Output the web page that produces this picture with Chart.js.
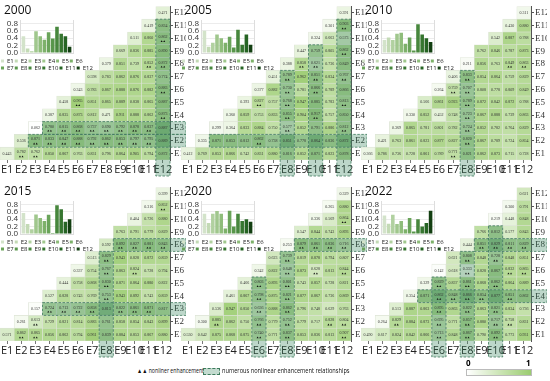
<!DOCTYPE html>
<html>
<head>
<meta charset="utf-8">
<script src="https://cdn.jsdelivr.net/npm/chart.js@4.4.1/dist/chart.umd.min.js"></script>
<style>
  body { margin: 0; width: 550px; height: 381px; background: #fff; position: relative; overflow: hidden; font-family: 'Open Sans', sans-serif; }
  .panel { position: absolute; width: 186px; height: 181px; }
  .panel canvas { position: absolute; left: 0; top: 0; }
  .title { position: absolute; left: 4px; top: 1px; font-size: 12px; color: #111; }
  .note { position: absolute; font-size: 6.5px; color: #111; white-space: nowrap; transform-origin: left center; }
</style>
</head>
<body>
<div id="wrap"></div>
<div class="note" style="left:137px;top:366px;transform:scaleX(0.8)">▲▲ nonliner enhancement</div>
<div style="position:absolute;left:203px;top:368px;width:15px;height:5px;border:1px dashed #3d7a5c;background:rgba(55,135,95,0.3)"></div>
<div class="note" style="left:222px;top:366px;transform:scaleX(0.87)">numerous nonlinear enhancement relationships</div>
<div style="position:absolute;left:466px;top:357px;font-size:8px;font-weight:bold">0</div>
<div style="position:absolute;left:526px;top:357px;font-size:8px;font-weight:bold">1</div>
<div id="cbar" style="position:absolute;left:466px;top:369px;width:64px;height:5px;border:0.5px solid #bbb"></div>
<script>
const labels = ['E1', 'E2', 'E3', 'E4', 'E5', 'E6', 'E7', 'E8', 'E9', 'E10', 'E11', 'E12'];
const years = ['2000', '2005', '2010', '2015', '2020', '2022'];

// kleine Balkendiagramme oben links
const bars2000 = [0.45, 0.12, 0.05, 0.59, 0.45, 0.36, 0.56, 0.39, 0.71, 0.52, 0.45, 0.17];
const bars2005 = [0.60, 0.17, 0.28, 0.50, 0.40, 0.28, 0.44, 0.15, 0.63, 0.22, 0.50, 0.22];
const bars2010 = [0.35, 0.42, 0.35, 0.52, 0.55, 0.25, 0.42, 0.07, 0.78, 0.50, 0.40, 0.30];
const bars2015 = [0.57, 0.27, 0.13, 0.53, 0.43, 0.35, 0.52, 0.03, 0.78, 0.67, 0.33, 0.40];
const bars2020 = [0.55, 0.30, 0.55, 0.62, 0.55, 0.15, 0.63, 0.20, 0.55, 0.35, 0.40, 0.33];
const bars2022 = [0.50, 0.28, 0.52, 0.27, 0.35, 0.13, 0.43, 0.07, 0.40, 0.20, 0.30, 0.63];

// Zeilen E1..E12, jeweils Spalten Ei..E12
const cells2000 = [
  [0.443, 0.782, 0.762, 0.850, 0.867, 0.763, 0.831, 0.796, 0.864, 0.905, 0.794, 0.872],
  [0.536, 0.871, 0.833, 0.847, 0.888, 0.792, 0.862, 0.853, 0.797, 0.795, 0.889],
  [0.062, 0.780, 0.815, 0.868, 0.737, 0.690, 0.792, 0.878, 0.837, 0.887],
  [0.387, 0.835, 0.873, 0.812, 0.471, 0.911, 0.888, 0.862, 0.873],
  [0.458, 0.965, 0.851, 0.865, 0.889, 0.838, 0.865, 0.887],
  [0.343, 0.783, 0.867, 0.888, 0.876, 0.882, 0.883],
  [0.598, 0.783, 0.862, 0.876, 0.837, 0.774],
  [0.379, 0.851, 0.739, 0.852, 0.872],
  [0.669, 0.836, 0.885, 0.890],
  [0.511, 0.860, 0.862],
  [0.419, 0.834],
  [0.471]
];
const cells2005 = [
  [0.412, 0.769, 0.853, 0.866, 0.742, 0.831, 0.880, 0.816, 0.852, 0.871, 0.823, 0.878],
  [0.335, 0.871, 0.853, 0.812, 0.862, 0.738, 0.851, 0.778, 0.864, 0.836, 0.872],
  [0.299, 0.364, 0.833, 0.884, 0.750, 0.577, 0.852, 0.791, 0.886, 0.812],
  [0.360, 0.859, 0.753, 0.833, 0.855, 0.904, 0.917, 0.757, 0.850],
  [0.393, 0.827, 0.757, 0.768, 0.947, 0.885, 0.783, 0.813],
  [0.377, 0.882, 0.730, 0.781, 0.866, 0.789, 0.866],
  [0.451, 0.789, 0.962, 0.851, 0.834, 0.767],
  [0.388, 0.858, 0.621, 0.736, 0.849],
  [0.447, 0.759, 0.805, 0.862],
  [0.324, 0.663, 0.573],
  [0.301, 0.903],
  [0.391]
];
const cells2010 = [
  [0.366, 0.786, 0.736, 0.728, 0.861, 0.789, 0.771, 0.821, 0.862, 0.873, 0.715, 0.728],
  [0.421, 0.763, 0.861, 0.823, 0.877, 0.827, 0.820, 0.867, 0.789, 0.724, 0.854],
  [0.369, 0.865, 0.781, 0.801, 0.782, 0.724, 0.852, 0.782, 0.764, 0.829],
  [0.330, 0.852, 0.452, 0.748, 0.723, 0.867, 0.888, 0.739, 0.863],
  [0.566, 0.861, 0.923, 0.789, 0.872, 0.842, 0.872, 0.788],
  [0.264, 0.759, 0.707, 0.808, 0.778, 0.809, 0.849],
  [0.406, 0.833, 0.854, 0.864, 0.759, 0.829],
  [0.211, 0.856, 0.763, 0.849, 0.863],
  [0.762, 0.846, 0.787, 0.873],
  [0.542, 0.887, 0.788],
  [0.430, 0.880],
  [0.311]
];
const cells2015 = [
  [0.571, 0.862, 0.865, 0.856, 0.862, 0.794, 0.961, 0.839, 0.884, 0.853, 0.867, 0.880],
  [0.261, 0.613, 0.729, 0.821, 0.814, 0.883, 0.761, 0.858, 0.854, 0.843, 0.899],
  [0.157, 0.724, 0.713, 0.722, 0.858, 0.813, 0.822, 0.861, 0.871, 0.817],
  [0.527, 0.828, 0.743, 0.769, 0.753, 0.943, 0.892, 0.743, 0.859],
  [0.444, 0.758, 0.868, 0.830, 0.871, 0.864, 0.880, 0.822],
  [0.337, 0.754, 0.767, 0.863, 0.824, 0.728, 0.794],
  [0.513, 0.829, 0.943, 0.828, 0.872, 0.859],
  [0.592, 0.892, 0.827, 0.881, 0.843],
  [0.763, 0.791, 0.779, 0.829],
  [0.404, 0.726, 0.880],
  [0.316, 0.852],
  [0.399]
];
const cells2020 = [
  [0.530, 0.642, 0.875, 0.868, 0.875, 0.740, 0.771, 0.837, 0.853, 0.836, 0.813, 0.907],
  [0.300, 0.885, 0.862, 0.750, 0.766, 0.779, 0.752, 0.779, 0.717, 0.828, 0.804],
  [0.536, 0.947, 0.850, 0.636, 0.888, 0.862, 0.796, 0.748, 0.629, 0.763],
  [0.461, 0.867, 0.798, 0.875, 0.821, 0.877, 0.867, 0.736, 0.869],
  [0.466, 0.803, 0.893, 0.801, 0.743, 0.857, 0.728, 0.821],
  [0.342, 0.822, 0.648, 0.873, 0.628, 0.813, 0.844],
  [0.623, 0.739, 0.819, 0.878, 0.794, 0.807],
  [0.253, 0.879, 0.861, 0.836, 0.716],
  [0.547, 0.844, 0.743, 0.893],
  [0.336, 0.569, 0.864],
  [0.265, 0.880],
  [0.329]
];
const cells2022 = [
  [0.490, 0.617, 0.824, 0.842, 0.866, 0.713, 0.848, 0.867, 0.790, 0.892, 0.773, 0.931],
  [0.264, 0.829, 0.884, 0.873, 0.695, 0.771, 0.857, 0.880, 0.717, 0.758, 0.831],
  [0.513, 0.887, 0.863, 0.895, 0.863, 0.822, 0.863, 0.821, 0.834, 0.736],
  [0.354, 0.871, 0.862, 0.848, 0.866, 0.854, 0.877, 0.851, 0.862],
  [0.329, 0.829, 0.837, 0.861, 0.868, 0.862, 0.864, 0.889],
  [0.142, 0.618, 0.333, 0.828, 0.867, 0.832, 0.865],
  [0.621, 0.808, 0.848, 0.728, 0.848, 0.851],
  [0.444, 0.851, 0.829, 0.811, 0.829],
  [0.766, 0.812, 0.577, 0.843],
  [0.219, 0.448, 0.848],
  [0.300, 0.791],
  [0.621]
];

// gestrichelte Bereiche
const hiRows2000 = ['E2', 'E3'], hiCols2000 = ['E12'];
const hiRows2005 = ['E2'], hiCols2005 = ['E8', 'E10', 'E12'];
const hiRows2010 = [], hiCols2010 = ['E8'];
const hiRows2015 = ['E3', 'E8'], hiCols2015 = ['E8'];
const hiRows2020 = ['E8'], hiCols2020 = ['E6', 'E8'];
const hiRows2022 = ['E4', 'E8'], hiCols2022 = ['E6', 'E8', 'E10'];

// ▲▲ Markierungen [Zeile, Spalte]
const marks2000 = [[1,2],[1,3],[2,3],[2,4],[2,5],[2,6],[2,7],[2,8],[2,9],[2,10],[2,11],[3,4],[3,5],[3,6],[3,7],[3,8],[3,9],[3,10],[3,11],[5,6],[4,12],[6,12],[8,11],[8,12],[10,12]];
const marks2005 = [[3,8],[4,8],[5,8],[6,8],[7,8],[4,10],[6,10],[7,10],[8,10],[3,12],[5,12],[7,12],[9,12],[11,12],[5,6],[8,9],[2,6]];
const marks2010 = [[6,7],[3,8],[4,8],[5,8],[6,8],[7,8],[8,11],[8,12],[1,7],[2,8]];
const marks2015 = [[1,2],[1,3],[2,3],[3,4],[3,5],[3,6],[3,7],[3,9],[3,10],[3,11],[4,8],[5,8],[6,8],[7,8],[11,12],[6,10],[8,9],[8,10],[8,11],[8,12]];
const marks2020 = [[1,6],[2,3],[2,6],[2,8],[2,11],[2,12],[1,8],[1,12],[3,6],[3,8],[4,6],[5,6],[4,8],[5,8],[6,8],[7,8],[8,9],[8,10],[8,11],[8,12],[10,12],[6,10],[6,12]];
const marks2022 = [[1,6],[2,6],[3,6],[4,6],[5,6],[1,8],[2,8],[3,8],[4,8],[5,8],[6,8],[7,8],[1,10],[2,10],[3,10],[5,10],[7,10],[8,9],[8,10],[8,11],[8,12],[4,7],[4,9],[4,11],[2,3],[2,11],[6,11],[6,12]];

const barColors = ['#d3e3ca', '#c3dab5', '#b1d1a0', '#a0c78d', '#8fbd7b', '#7db16a', '#6aa45a', '#58964b', '#47873d', '#367630', '#266424', '#133f12'];

function cellColor(v) {
  const t = Math.pow(Math.max(0, Math.min(1, v)), 1.7);
  const hi = [155, 204, 112];
  return 'rgb(' + hi.map(c => Math.round(255 + (c - 255) * t)).join(',') + ')';
}
document.getElementById('cbar').style.background = 'linear-gradient(to right, #fff, ' + cellColor(1) + ')';

const panels = [
  { year: years[0], bars: bars2000, cells: cells2000, hiRows: hiRows2000, hiCols: hiCols2000, marks: marks2000 },
  { year: years[1], bars: bars2005, cells: cells2005, hiRows: hiRows2005, hiCols: hiCols2005, marks: marks2005 },
  { year: years[2], bars: bars2010, cells: cells2010, hiRows: hiRows2010, hiCols: hiCols2010, marks: marks2010 },
  { year: years[3], bars: bars2015, cells: cells2015, hiRows: hiRows2015, hiCols: hiCols2015, marks: marks2015 },
  { year: years[4], bars: bars2020, cells: cells2020, hiRows: hiRows2020, hiCols: hiCols2020, marks: marks2020 },
  { year: years[5], bars: bars2022, cells: cells2022, hiRows: hiRows2022, hiCols: hiCols2022, marks: marks2022 }
];

const cellPlugin = {
  id: 'cellText',
  afterDatasetsDraw(chart, args, opts) {
    const { ctx, chartArea } = chart;
    const x = chart.scales.x, y = chart.scales.y;
    const cw = x.getPixelForValue(1) - x.getPixelForValue(0);
    ctx.save();
    const boxes = [];
    opts.hiCols.forEach(name => {
      const j = labels.indexOf(name);
      const top = y.getPixelForValue(j + 0.5);
      boxes.push([x.getPixelForValue(j) - cw / 2, top, cw, y.getPixelForValue(0.5) + 16 - top]);
    });
    opts.hiRows.forEach(name => {
      const k = labels.indexOf(name) + 1;
      const left = x.getPixelForValue(k) - cw / 2;
      const top = y.getPixelForValue(k + 0.5);
      boxes.push([left, top, chartArea.right + 16 - left, y.getPixelForValue(k - 0.5) - top]);
    });
    boxes.forEach(b => {
      ctx.fillStyle = 'rgba(55,135,95,0.33)';
      ctx.fillRect(b[0], b[1], b[2], b[3]);
    });
    ctx.strokeStyle = '#3d7a5c';
    ctx.lineWidth = 0.8;
    ctx.setLineDash([2.5, 1.5]);
    boxes.forEach(b => ctx.strokeRect(b[0], b[1], b[2], b[3]));
    ctx.setLineDash([]);

    const marked = new Set(opts.marks.map(m => m[0] + '-' + m[1]));
    ctx.font = '4px "Liberation Serif"';
    ctx.textAlign = 'center';
    ctx.textBaseline = 'middle';
    chart.data.datasets.forEach((ds, i) => {
      chart.getDatasetMeta(i).data.forEach((el, j) => {
        if (j < i) return;
        const cx = el.x, cy = (el.y + el.base) / 2;
        const hasMark = marked.has((i + 1) + '-' + (j + 1));
        ctx.fillStyle = '#333';
        ctx.fillText(opts.cells[i][j - i].toFixed(3), cx, cy - (hasMark ? 1.5 : 0));
        if (hasMark) {
          ctx.fillStyle = '#111';
          [-1.3, 1.3].forEach(dx => {
            ctx.beginPath();
            ctx.moveTo(cx + dx - 1, cy + 3.6);
            ctx.lineTo(cx + dx + 1, cy + 3.6);
            ctx.lineTo(cx + dx, cy + 1.8);
            ctx.fill();
          });
        }
      });
    });
    ctx.restore();
  }
};

const panelX = [0, 180.5, 361], panelY = [0, 181];
const wrap = document.getElementById('wrap');

panels.forEach((p, n) => {
  const div = document.createElement('div');
  div.className = 'panel';
  div.style.left = panelX[n % 3] + 'px';
  div.style.top = panelY[Math.floor(n / 3)] + 'px';
  const heat = document.createElement('canvas');
  heat.width = 186; heat.height = 178;
  const inset = document.createElement('canvas');
  inset.width = 96; inset.height = 60;
  inset.style.top = '14px';
  const title = document.createElement('div');
  title.className = 'title';
  title.textContent = p.year;
  div.appendChild(heat); div.appendChild(inset); div.appendChild(title);
  wrap.appendChild(div);

  new Chart(heat, {
    type: 'bar',
    data: {
      labels: labels,
      datasets: labels.map((_, i) => ({
        data: labels.map((_, j) => j >= i ? [i + 0.5, i + 1.5] : null),
        backgroundColor: labels.map((_, j) => j >= i ? cellColor(p.cells[i][j - i]) : 'rgba(0,0,0,0)'),
        borderColor: '#dde3d6',
        borderWidth: 0.6,
        borderSkipped: false,
        grouped: false,
        barPercentage: 1,
        categoryPercentage: 1
      }))
    },
    options: {
      responsive: false,
      animation: false,
      layout: { padding: { top: 5, left: 0, right: 0, bottom: 0 } },
      plugins: {
        legend: { display: false },
        tooltip: { enabled: false },
        cellText: { cells: p.cells, hiRows: p.hiRows, hiCols: p.hiCols, marks: p.marks }
      },
      scales: {
        x: {
          grid: { display: true, drawOnChartArea: false, tickLength: 3, color: '#777', offset: false },
          border: { display: false },
          ticks: { autoSkip: false, maxRotation: 0, padding: 0, color: '#222', font: { family: 'Open Sans', size: 11 } },
          afterFit: s => { s.height = 18; }
        },
        y: {
          position: 'right',
          min: 0.5, max: 12.5,
          afterBuildTicks: s => { s.ticks = labels.map((_, i) => ({ value: i + 1 })); },
          afterFit: s => { s.width = 16; },
          grid: { display: true, drawOnChartArea: false, tickLength: 3, color: '#555' },
          border: { display: true, color: '#555' },
          ticks: { autoSkip: false, padding: 1, color: '#333', font: { family: 'Liberation Serif', size: 9 }, callback: v => 'E' + v }
        }
      }
    },
    plugins: [cellPlugin]
  });

  new Chart(inset, {
    type: 'bar',
    data: {
      labels: [''],
      datasets: labels.map((l, i) => ({ label: l, data: [p.bars[i]], backgroundColor: barColors[i] }))
    },
    options: {
      responsive: false,
      animation: false,
      layout: { padding: { top: 6 } },
      datasets: { bar: { categoryPercentage: 0.95, barPercentage: 0.85 } },
      plugins: {
        tooltip: { enabled: false },
        legend: {
          position: 'bottom', align: 'start', maxHeight: 17,
          labels: { boxWidth: 3, boxHeight: 3, padding: 1, color: '#222', font: { family: 'Open Sans', size: 6, lineHeight: 1 } }
        }
      },
      scales: {
        x: {
          ticks: { display: false },
          grid: { display: false, drawTicks: false },
          border: { display: true, color: '#ddd' },
          afterFit: s => { s.height = 4; }
        },
        y: {
          min: 0, max: 0.87,
          afterBuildTicks: s => { s.ticks = [0, 0.2, 0.4, 0.6, 0.8].map(v => ({ value: v })); },
          afterFit: s => { s.width = 20; },
          grid: { color: '#ececec', drawTicks: false },
          border: { color: '#ddd' },
          ticks: { autoSkip: false, padding: 2, color: '#333', font: { family: 'Open Sans', size: 8 }, callback: v => v.toFixed(1) }
        },
        y2: {
          position: 'right',
          display: true,
          ticks: { display: false },
          grid: { display: false, drawTicks: false },
          border: { display: true, color: '#ddd' },
          afterFit: s => { s.width = 23; }
        }
      }
    }
  });
});
</script>
</body>
</html>
